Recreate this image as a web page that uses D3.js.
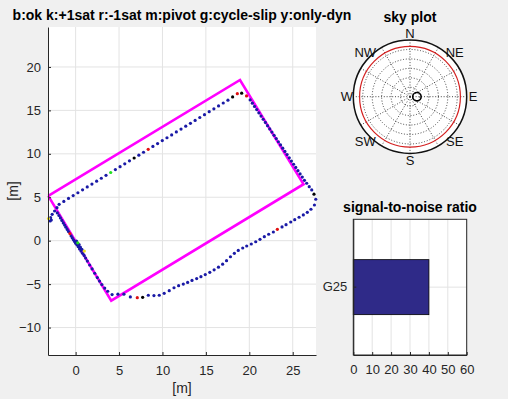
<!DOCTYPE html>
<html><head><meta charset="utf-8">
<script src="https://cdn.jsdelivr.net/npm/d3@7"></script>
<style>
html,body{margin:0;padding:0;background:#f0f0f0;}
svg{display:block;font-family:"Liberation Sans",Arial,Helvetica,sans-serif;}
</style></head><body>
<svg id="c" width="508" height="399"></svg>
<script>
// ---------- data ----------
const titleText = "b:ok k:+1sat r:-1sat m:pivot g:cycle-slip y:only-dyn";
const xTicks = [0, 5, 10, 15, 20, 25];
const yTicks = [-10, -5, 0, 5, 10, 15, 20];
const xLabel = "[m]";
const yLabel = "[m]";
const pivotRect = [[-3.15, 5.15], [18.93, 18.5], [26.25, 6.5], [4.1, -6.9]];

// b: ok
const okPts = [
  [-2.15,3.80],[-2.42,3.42],[-2.70,3.04],[-2.88,2.65],[-2.80,2.38],[-2.93,2.28],
  [-1.90,4.19],[-1.36,4.52],[-0.82,4.86],[-0.28,5.19],[0.26,5.52],[0.80,5.86],[1.34,6.19],[1.88,6.52],
  [2.42,6.85],[2.96,7.19],[3.50,7.52],[4.58,8.19],[5.12,8.52],[5.66,8.85],[6.20,9.19],[7.28,9.85],
  [7.82,10.18],[8.90,10.85],[9.44,11.18],[9.98,11.52],[10.52,11.85],[11.06,12.18],[11.60,12.52],
  [12.14,12.85],[12.68,13.18],[13.22,13.51],[13.76,13.85],[14.30,14.18],[14.84,14.51],[15.38,14.85],
  [15.92,15.18],[16.46,15.51],[17.00,15.85],[17.54,16.18],
  [20.10,16.20],[20.35,15.83],[20.60,15.46],[20.85,15.09],[21.10,14.72],[21.35,14.35],[21.60,13.98],
  [21.85,13.61],[22.10,13.24],[22.35,12.87],[22.60,12.50],[22.85,12.13],[23.10,11.76],[23.35,11.39],
  [23.60,11.02],[23.85,10.65],[24.10,10.28],[24.35,9.91],[24.60,9.54],[24.85,9.17],[25.10,8.80],
  [25.35,8.43],[25.60,8.06],[25.85,7.69],[26.10,7.32],[26.35,6.95],
  [-2.10,3.20],[-1.92,2.90],[-1.75,2.62],[-1.58,2.33],[-1.42,2.05],[-1.27,1.80],[-1.12,1.55],[-0.97,1.30],
  [-0.82,1.05],[-0.52,0.55],[-0.38,0.32],[-0.25,0.10],[-0.12,-0.10],[0.00,-0.30],[0.10,-0.05],[0.15,-0.48],
  [0.30,-0.70],[0.40,-0.45],[0.45,-0.95],[0.55,-0.75],[0.62,-1.20],[0.72,-1.00],[0.80,-1.45],[0.98,-1.70],
  [1.15,-2.00],[1.35,-2.35],[1.62,-2.80],[1.90,-3.25],[2.20,-3.75],[2.50,-4.25],[2.75,-4.65],[3.02,-5.05],
  [3.35,-5.45],[3.70,-5.82],
  [4.20,-6.20],[4.87,-6.16],[5.56,-6.16],[6.30,-6.48],[8.37,-6.28],[9.02,-6.32],[9.63,-6.28],[10.20,-6.06],
  [10.78,-5.76],[11.33,-5.42],[11.86,-5.18],[12.40,-4.99],[12.90,-4.80],[13.40,-4.58],[13.94,-4.36],
  [14.43,-4.14],[14.93,-3.90],[15.45,-3.64],[15.95,-3.36],[16.45,-3.05],[16.93,-2.70],[17.38,-2.30],
  [17.83,-1.85],[18.28,-1.45],[18.73,-1.12],[19.24,-0.84],[19.70,-0.61],[20.23,-0.38],[20.74,-0.12],
  [21.23,0.16],[21.73,0.46],[22.23,0.74],[22.77,1.00],[23.77,1.58],[24.23,1.84],[24.77,2.15],[25.23,2.42],
  [25.73,2.70],[26.22,2.96],[26.68,3.27],[27.10,3.62],[27.50,4.11],[27.65,4.77],[27.19,5.84],[26.90,6.22],
  [26.61,6.61]
];
// k: +1 sat
const plusSatPts = [[6.74,9.52],[18.08,16.55],[19.12,16.98],[7.72,-6.52],[27.45,5.35]];
// r: -1 sat
const minusSatPts = [[8.36,10.52],[18.62,16.92],[19.68,16.67],[-0.66,0.82],[7.10,-6.56],[23.23,1.31]];
// g: cycle slip
const slipPts = [[4.04,7.85],[0.25,-0.25]];
// y: only dyn
const dynPts = [[-3.12,2.55],[1.00,-1.20]];

// sky plot
const skyTitle = "sky plot";
const compassLabels = ["N","NE","E","SE","S","SW","W","NW"];
const compassAz = [0,45,90,135,180,225,270,315];
const elevRings = [15,30,45,60,75];
const spokeAz = [0,30,60,90,120,150,180,210,240,270,300,330];
const elevMask = 10;
const satNames = ["G25"];
const satAz = [90];
const satEl = [79];
const satSnr = [40];

// SNR
const snrTitle = "signal-to-noise ratio";
const snrTicks = [0,10,20,30,40,50,60];

// ---------- drawing ----------
const svg = d3.select("#c");
const axColor = "#262626";
const gridColor = "#e3e3e3";

// main axes
const M = {l:48, r:316, t:27, b:355};
const x = d3.scaleLinear().domain([-3.18, 27.68]).range([M.l, M.r]);
const y = d3.scaleLinear().domain([-13.16, 24.6]).range([M.b, M.t]);

svg.append("rect").attr("x",M.l).attr("y",M.t).attr("width",M.r-M.l).attr("height",M.b-M.t).attr("fill","#fff");

const grid = svg.append("g");
grid.selectAll("line.vx").data(xTicks).join("line")
  .attr("x1",d=>x(d)).attr("x2",d=>x(d)).attr("y1",M.t).attr("y2",M.b)
  .attr("stroke",gridColor).attr("stroke-width",1);
grid.selectAll("line.hy").data(yTicks).join("line")
  .attr("y1",d=>y(d)).attr("y2",d=>y(d)).attr("x1",M.l).attr("x2",M.r)
  .attr("stroke",gridColor).attr("stroke-width",1);

// pivot rectangle
svg.append("path")
  .attr("d", d3.line().x(d=>x(d[0])).y(d=>y(d[1]))(pivotRect.concat([pivotRect[0]])))
  .attr("fill","none").attr("stroke","#ff00ff").attr("stroke-width",2.6).attr("stroke-linejoin","miter");

function dots(data, color){
  svg.append("g").selectAll("circle").data(data).join("circle")
    .attr("cx",d=>x(d[0])).attr("cy",d=>y(d[1])).attr("r",1.6).attr("fill",color);
}
dots(okPts, "#1a1aa6");
dots(plusSatPts, "#000000");
dots(minusSatPts, "#e01010");
dots(slipPts, "#20e020");
dots(dynPts, "#e8e020");

function styleAxis(g){
  g.selectAll("path.domain").attr("stroke",axColor);
  g.selectAll(".tick line").attr("stroke",axColor);
  g.selectAll(".tick text").attr("fill",axColor).style("font-size","13px").style("font-family","'Liberation Sans',Arial,sans-serif");
}
const gx = svg.append("g").attr("transform",`translate(0,${M.b})`)
  .call(d3.axisBottom(x).tickValues(xTicks).tickSizeInner(-3).tickSizeOuter(0).tickPadding(11));
styleAxis(gx);
const gy = svg.append("g").attr("transform",`translate(${M.l},0)`)
  .call(d3.axisLeft(y).tickValues(yTicks).tickSizeInner(-3).tickSizeOuter(0).tickPadding(7));
styleAxis(gy);

svg.append("text").attr("x",(M.l+M.r)/2).attr("y",393).attr("text-anchor","middle")
  .attr("fill",axColor).style("font-size","14px").text(xLabel);
svg.append("text").attr("transform",`translate(18,${(M.t+M.b)/2}) rotate(-90)`).attr("text-anchor","middle")
  .attr("fill",axColor).style("font-size","14px").text(yLabel);

svg.append("text").attr("x",(M.l+M.r)/2).attr("y",20).attr("text-anchor","middle")
  .attr("fill","#000").style("font-size","14px").style("font-weight","bold").text(titleText);

// sky plot
const S = {cx:410, cy:96.7, R:56.7};
const rS = d3.scaleLinear().domain([90,0]).range([0,S.R]);
const pol = (az,el)=>[S.cx + rS(el)*Math.sin(az*Math.PI/180), S.cy - rS(el)*Math.cos(az*Math.PI/180)];
const sky = svg.append("g");
sky.append("circle").attr("cx",S.cx).attr("cy",S.cy).attr("r",rS(0)).attr("fill","#fff");
sky.selectAll("circle.ring").data(elevRings).join("circle")
  .attr("cx",S.cx).attr("cy",S.cy).attr("r",d=>rS(d)).attr("fill","none")
  .attr("stroke","#333").attr("stroke-width",0.9).attr("stroke-dasharray","1,1.8");
sky.selectAll("line.spoke").data(spokeAz).join("line")
  .attr("x1",S.cx).attr("y1",S.cy)
  .attr("x2",d=>pol(d,0)[0]).attr("y2",d=>pol(d,0)[1])
  .attr("stroke","#333").attr("stroke-width",0.9).attr("stroke-dasharray","1,1.8");
sky.append("circle").attr("cx",S.cx).attr("cy",S.cy).attr("r",rS(elevMask)).attr("fill","none")
  .attr("stroke","#d42020").attr("stroke-width",1.2);
sky.append("circle").attr("cx",S.cx).attr("cy",S.cy).attr("r",rS(0)).attr("fill","none")
  .attr("stroke","#111").attr("stroke-width",1.5);
sky.selectAll("circle.sat").data(satNames).join("circle")
  .attr("cx",(d,i)=>pol(satAz[i],satEl[i])[0]).attr("cy",(d,i)=>pol(satAz[i],satEl[i])[1])
  .attr("r",4.2).attr("fill","none").attr("stroke","#000").attr("stroke-width",1.6);
const rLab = S.R + 6.5;
sky.selectAll("text.cmp").data(compassLabels).join("text")
  .attr("x",(d,i)=>S.cx + rLab*Math.sin(compassAz[i]*Math.PI/180))
  .attr("y",(d,i)=>S.cy - rLab*Math.cos(compassAz[i]*Math.PI/180))
  .attr("dy","0.36em").attr("text-anchor","middle").attr("fill","#111")
  .style("font-size","13px").text(d=>d);
svg.append("text").attr("x",S.cx).attr("y",21.5).attr("text-anchor","middle")
  .style("font-size","14px").style("font-weight","bold").text(skyTitle);

// SNR bar chart
const B = {l:353.3, r:466.7, t:219.3, b:355};
const xs = d3.scaleLinear().domain([0,60]).range([B.l,B.r]);
const ys = d3.scaleBand().domain(satNames).range([B.t,B.b]).paddingInner(0.2).paddingOuter(0.587);
svg.append("rect").attr("x",B.l).attr("y",B.t).attr("width",B.r-B.l).attr("height",B.b-B.t).attr("fill","#fff");
svg.append("g").selectAll("line").data(snrTicks).join("line")
  .attr("x1",d=>xs(d)).attr("x2",d=>xs(d)).attr("y1",B.t).attr("y2",B.b)
  .attr("stroke",gridColor);
svg.append("g").selectAll("line").data(satNames).join("line")
  .attr("y1",d=>ys(d)+ys.bandwidth()/2).attr("y2",d=>ys(d)+ys.bandwidth()/2).attr("x1",B.l).attr("x2",B.r)
  .attr("stroke",gridColor);
svg.append("g").selectAll("rect").data(satNames).join("rect")
  .attr("x",xs(0)).attr("y",d=>ys(d)).attr("width",(d,i)=>xs(satSnr[i])-xs(0)).attr("height",ys.bandwidth())
  .attr("fill","#2f2a88").attr("stroke","#000").attr("stroke-width",0.8);
const gsx = svg.append("g").attr("transform",`translate(0,${B.b})`)
  .call(d3.axisBottom(xs).tickValues(snrTicks).tickSizeInner(-3).tickSizeOuter(0).tickPadding(10));
styleAxis(gsx);
const gsy = svg.append("g").attr("transform",`translate(${B.l},0)`)
  .call(d3.axisLeft(ys).tickSizeInner(-3).tickSizeOuter(0).tickPadding(6));
styleAxis(gsy);
svg.append("rect").attr("x",B.l).attr("y",B.t).attr("width",B.r-B.l).attr("height",B.b-B.t)
  .attr("fill","none").attr("stroke",axColor).attr("stroke-width",1);
svg.append("text").attr("x",(B.l+B.r)/2).attr("y",212).attr("text-anchor","middle")
  .style("font-size","14px").style("font-weight","bold").text(snrTitle);
</script>
</body></html>
